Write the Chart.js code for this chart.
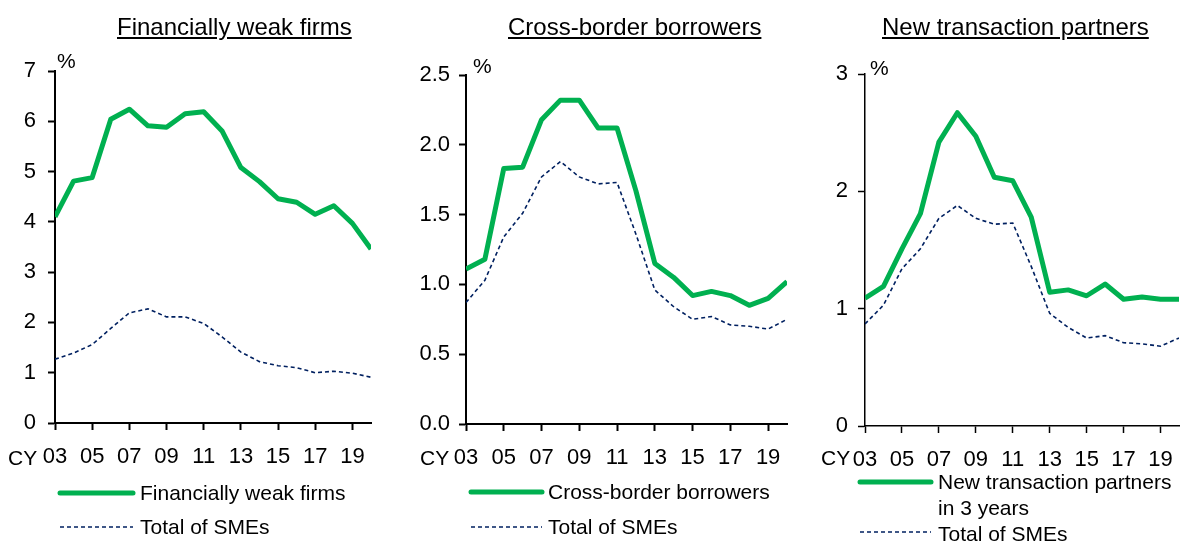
<!DOCTYPE html>
<html lang="en">
<head>
<meta charset="UTF-8">
<script src="https://cdn.jsdelivr.net/npm/chart.js"></script>
<title>SME default rates</title>
<style>
  body { margin: 0; width: 1180px; height: 543px; background: #fff; position: relative; overflow: hidden;
         font-family: "Liberation Sans", Arial, sans-serif; color: #000; }
  .panel { position: absolute; top: 0; height: 480px; }
  .title { position: absolute; top: 13px; font-size: 24px; text-decoration: underline; white-space: nowrap; }
  .txt { position: absolute; font-size: 21px; white-space: nowrap; }
  .cy { position: absolute; font-size: 21px; white-space: nowrap; }
  svg.sample { position: absolute; overflow: visible; }
</style>
</head>
<body>
<script>
// values (%, calendar years)
const years = [2003, 2004, 2005, 2006, 2007, 2008, 2009, 2010, 2011, 2012, 2013, 2014, 2015, 2016, 2017, 2018, 2019, 2020];
const tickYears = [2003, 2005, 2007, 2009, 2011, 2013, 2015, 2017, 2019];

const weakFirms   = [4.10, 4.81, 4.88, 6.04, 6.24, 5.91, 5.88, 6.15, 6.19, 5.80, 5.08, 4.80, 4.46, 4.39, 4.15, 4.32, 3.97, 3.46];
const smeWeak     = [1.27, 1.39, 1.56, 1.88, 2.19, 2.27, 2.11, 2.11, 1.98, 1.71, 1.41, 1.22, 1.14, 1.10, 1.00, 1.03, 0.99, 0.91];
const crossBorder = [1.11, 1.18, 1.83, 1.84, 2.18, 2.32, 2.32, 2.12, 2.12, 1.67, 1.15, 1.05, 0.92, 0.95, 0.92, 0.85, 0.90, 1.02];
const newPartners = [1.09, 1.19, 1.51, 1.81, 2.42, 2.67, 2.47, 2.12, 2.09, 1.78, 1.14, 1.16, 1.11, 1.21, 1.08, 1.10, 1.08, 1.08];
const smeTotal    = [0.87, 1.03, 1.34, 1.51, 1.77, 1.88, 1.77, 1.72, 1.73, 1.36, 0.96, 0.84, 0.75, 0.77, 0.71, 0.70, 0.68, 0.75];

const GREEN = '#00B050';
const NAVY = '#002060';
const FONT = '"Liberation Sans", Arial, sans-serif';

const panels = [
  { title: 'Financially weak firms', titleX: 117, left: 0, width: 390,
    main: weakFirms, sme: smeWeak, legend: ['Financially weak firms'],
    yMax: 7, yStep: 1, dec: 0, axisL: 55, padR: 19, top: 71, bottom: 423, tickLen: 7, labPad: 12, border: 2,
    unit: [57, 49], cy: [8, 446], leg: { x1: 60, x2: 133, tx: 140, y1: 493, y2: 527, ty: [481], ty2: 515 } },
  { title: 'Cross-border borrowers', titleX: 508, left: 395, width: 395,
    main: crossBorder, sme: smeTotal, legend: ['Cross-border borrowers'],
    yMax: 2.5, yStep: 0.5, dec: 1, axisL: 71, padR: 3, top: 75, bottom: 424, tickLen: 7, labPad: 9, border: 2,
    unit: [473, 54], cy: [420, 446], leg: { x1: 471, x2: 542, tx: 548, y1: 492, y2: 527, ty: [480], ty2: 515 } },
  { title: 'New transaction partners', titleX: 882, left: 790, width: 390,
    main: newPartners, sme: smeTotal, legend: ['New transaction partners', 'in 3 years'],
    yMax: 3, yStep: 1, dec: 0, axisL: 75, padR: 1, top: 74, bottom: 426, tickLen: 7, labPad: 10, border: 1.5,
    unit: [870, 56], cy: [821, 446], leg: { x1: 860, x2: 931, tx: 938, y1: 482, y2: 532, ty: [470, 496], ty2: 522 } }
];

function addText(cls, text, x, y) {
  const d = document.createElement('div');
  d.className = cls;
  d.textContent = text;
  d.style.left = x + 'px';
  d.style.top = y + 'px';
  document.body.appendChild(d);
}

function addSample(x1, x2, y, color, width, dash) {
  const ns = 'http://www.w3.org/2000/svg';
  const svg = document.createElementNS(ns, 'svg');
  svg.setAttribute('class', 'sample');
  svg.setAttribute('width', x2 - x1);
  svg.setAttribute('height', 10);
  svg.style.left = x1 + 'px';
  svg.style.top = (y - 5) + 'px';
  const ln = document.createElementNS(ns, 'line');
  ln.setAttribute('x1', 0); ln.setAttribute('x2', x2 - x1);
  ln.setAttribute('y1', 5); ln.setAttribute('y2', 5);
  ln.setAttribute('stroke', color);
  ln.setAttribute('stroke-width', width);
  if (dash) ln.setAttribute('stroke-dasharray', dash);
  else ln.setAttribute('stroke-linecap', 'round');
  svg.appendChild(ln);
  document.body.appendChild(svg);
}

panels.forEach((p) => {
  const wrap = document.createElement('div');
  wrap.className = 'panel';
  wrap.style.left = p.left + 'px';
  wrap.style.width = p.width + 'px';
  const cv = document.createElement('canvas');
  cv.width = p.width;
  cv.height = 480;
  wrap.appendChild(cv);
  document.body.appendChild(wrap);

  const xAxisH = 40;
  new Chart(cv, {
    type: 'line',
    data: {
      datasets: [
        { label: p.legend.join(' '), data: years.map((y, i) => ({ x: y, y: p.main[i] })),
          borderColor: GREEN, borderWidth: 5, pointRadius: 0, tension: 0, borderJoinStyle: 'round' },
        { label: 'Total of SMEs', data: years.map((y, i) => ({ x: y, y: p.sme[i] })),
          borderColor: NAVY, borderWidth: 1.6, borderDash: [4, 3], pointRadius: 0, tension: 0 }
      ]
    },
    options: {
      responsive: false,
      animation: false,
      layout: { padding: { left: 0, top: p.top, right: p.padR, bottom: 480 - p.bottom - xAxisH } },
      plugins: { legend: { display: false }, tooltip: { enabled: false } },
      scales: {
        x: {
          type: 'linear', min: 2003, max: 2020,
          afterBuildTicks: (s) => { s.ticks = tickYears.map(v => ({ value: v })); },
          // fixed height, and no extra side padding for the end labels
          afterFit: (s) => { s.height = xAxisH; s.paddingLeft = 0; s.paddingRight = 0; },
          grid: { drawOnChartArea: false, tickLength: p.tickLen, tickColor: '#000', tickWidth: p.border },
          border: { color: '#000', width: p.border },
          ticks: { color: '#000', font: { family: FONT, size: 22 }, padding: 14, maxRotation: 0,
                   callback: (v) => String(v).slice(2) }
        },
        y: {
          min: 0, max: p.yMax,
          afterFit: (s) => { s.width = p.axisL; },
          grid: { drawOnChartArea: false, tickLength: p.tickLen, tickColor: '#000', tickWidth: p.border },
          border: { color: '#000', width: p.border },
          ticks: { stepSize: p.yStep, color: '#000', font: { family: FONT, size: 22 }, padding: p.labPad,
                   callback: (v) => Number(v).toFixed(p.dec) }
        }
      }
    }
  });

  addText('title', p.title, p.titleX, 13);
  addText('txt', '%', p.unit[0], p.unit[1]);
  addText('cy', 'CY', p.cy[0], p.cy[1]);

  const L = p.leg;
  addSample(L.x1, L.x2, L.y1, GREEN, 5, null);
  p.legend.forEach((line, i) => addText('txt', line, L.tx, L.ty[i]));
  addSample(L.x1, L.x2, L.y2, NAVY, 1.6, '4 3');
  addText('txt', 'Total of SMEs', L.tx, L.ty2);
});
</script>
</body>
</html>
